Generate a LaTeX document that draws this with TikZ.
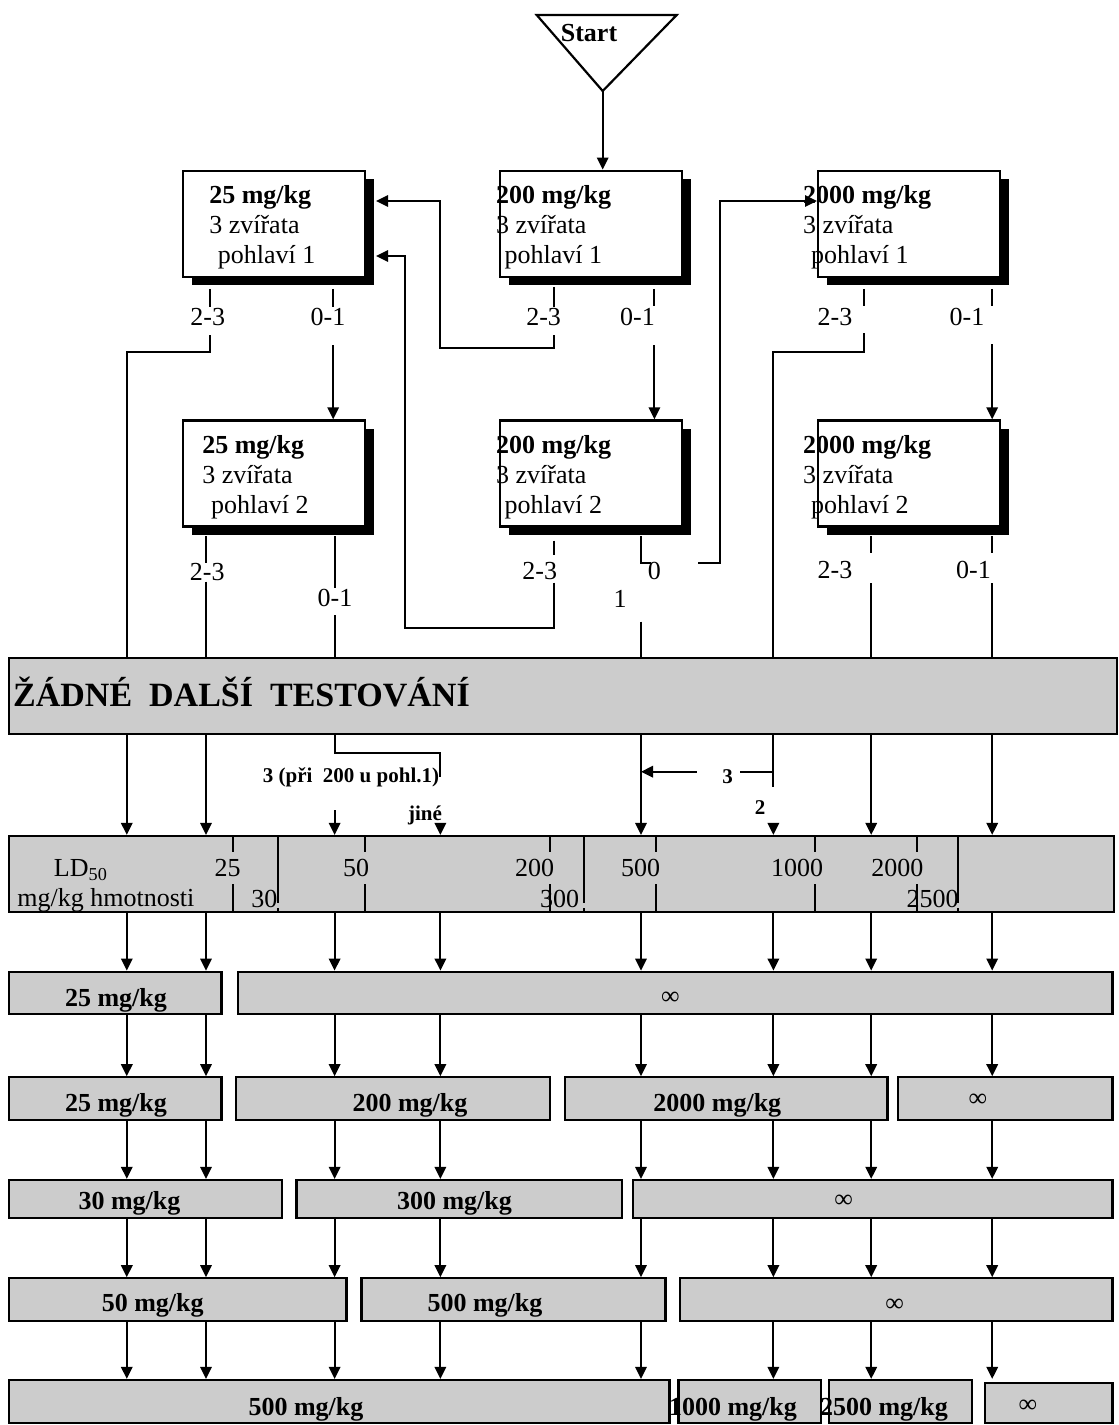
\documentclass[tikz,border=0pt]{standalone}
\usepackage{fontspec}
\setmainfont{Liberation Serif}
\usetikzlibrary{arrows.meta,shadows,calc,fit}
\definecolor{rowgray}{RGB}{204,204,204}
\tikzset{
  dose/.style={draw,fill=white,line width=1.1pt,inner sep=0pt,
    minimum width=91pt,minimum height=53pt,
    drop shadow={shadow xshift=4.3pt,shadow yshift=-4.3pt,fill=black,opacity=1}},
  dosetext/.style={anchor=north west,inner sep=0pt,align=left,
    font=\fontsize{13}{15}\selectfont},
  grayrow/.style={draw,fill=rowgray,line width=1.1pt,inner sep=0pt},
  conn/.style={line width=1pt},
  arr/.style={conn,-{Triangle[length=6pt,width=5.7pt]}},
  numlbl/.style={inner sep=0pt,font=\fontsize{13}{15}\selectfont},
  note/.style={inner sep=0pt,font=\fontsize{10.5}{12}\selectfont\bfseries},
  result/.style={anchor=base,inner sep=0pt,font=\fontsize{13}{15}\selectfont\bfseries},
}

\begin{document}
\begin{tikzpicture}[x=0.5pt,y=-0.5pt]
  \useasboundingbox (0,0) rectangle (1119,1425);
  \draw[line width=1.1pt] (536.7,15) -- (676.7,15) -- (602.7,91) -- cycle;
  \coordinate (start) at (602.7,91);
  \node[inner sep=0pt,font=\fontsize{13}{15}\selectfont\bfseries] (st) at (589,33) {Start};
  % test boxes
  \node[dose] (d25a) at (274,223.7) {};
  \node[dose] (d200a) at (591.3,223.7) {};
  \node[dose] (d2000a) at (909.1,223.7) {};
  \node[dose] (d25b) at (274,473.4) {};
  \node[dose] (d200b) at (591.3,473.4) {};
  \node[dose] (d2000b) at (909.1,473.4) {};
  \node[dosetext] at ($(d25a.north west)+(27,15)$) {\textbf{25 mg/kg}\\3 zvířata\\\hspace*{4.3pt}pohlaví 1};
  \node[dosetext] at ($(d200a.north west)+(-3.4,15)$) {\textbf{200 mg/kg}\\3 zvířata\\\hspace*{4.2pt}pohlaví 1};
  \node[dosetext] at ($(d2000a.north west)+(-14.2,15)$) {\textbf{2000 mg/kg}\\3 zvířata\\\hspace*{4pt}pohlaví 1};
  \node[dosetext] at ($(d25b.north west)+(20,15.5)$) {\textbf{25 mg/kg}\\3 zvířata\\\hspace*{4.4pt}pohlaví 2};
  \node[dosetext] at ($(d200b.north west)+(-3.4,15.5)$) {\textbf{200 mg/kg}\\3 zvířata\\\hspace*{4.2pt}pohlaví 2};
  \node[dosetext] at ($(d2000b.north west)+(-14.2,15.5)$) {\textbf{2000 mg/kg}\\3 zvířata\\\hspace*{4pt}pohlaví 2};
  % gray rows
  \node[grayrow,fit={(8.6,658.3) (1117,734)}] (nott) {};
  \node[grayrow,fit={(8.9,836) (1113.7,911.7)}] (ld) {};
  \node[grayrow,fit={(8.9,971.7) (221.4,1014)}] (ra1) {};
  \node[grayrow,fit={(238.2,971.7) (1112.5,1014)}] (ra2) {};
  \node[grayrow,fit={(8.9,1077.3) (221.4,1120)}] (rb1) {};
  \node[grayrow,fit={(236,1077.3) (550,1120)}] (rb2) {};
  \node[grayrow,fit={(564.8,1077.3) (887.5,1120)}] (rb3) {};
  \node[grayrow,fit={(897.7,1077.3) (1112.5,1120)}] (rb4) {};
  \node[grayrow,fit={(8.9,1180) (282,1218.3)}] (rc1) {};
  \node[grayrow,fit={(296.4,1180) (621.8,1218.3)}] (rc2) {};
  \node[grayrow,fit={(632.8,1180) (1112.5,1218.3)}] (rc3) {};
  \node[grayrow,fit={(8.9,1278.3) (346.4,1320.7)}] (rd1) {};
  \node[grayrow,fit={(361.4,1278.3) (665.4,1320.7)}] (rd2) {};
  \node[grayrow,fit={(679.7,1278.3) (1112.5,1320.7)}] (rd3) {};
  \node[grayrow,fit={(8.9,1380) (669.5,1423)}] (re1) {};
  \node[grayrow,fit={(678.5,1380) (820.7,1423)}] (re2) {};
  \node[grayrow,fit={(828.8,1380) (972.3,1423)}] (re3) {};
  \node[grayrow,fit={(985.3,1382.7) (1112.5,1423)}] (re4) {};
  \node[anchor=base west,inner sep=0pt,font=\fontsize{17}{20}\selectfont\bfseries] (nottxt) at (12.8,706) {ŽÁDNÉ\ \ DALŠÍ\ \ TESTOVÁNÍ};
  % LD50 scale
  \foreach \x in {232.9,365,550.1,656,815,916.9}
    \draw[conn] (\x,836) -- (\x,851.7) (\x,884) -- (\x,911.7);
  \foreach \x in {277.9,583.9,957.6}
    \draw[conn] (\x,836) -- (\x,903) (\x,908) -- (\x,911.7);
  \node[numlbl,anchor=base west] (ldtxt) at (53.6,876.7) {LD\textsubscript{50}};
  \node[numlbl,anchor=base west] (unit) at (17,906) {mg/kg hmotnosti};
  \foreach \x/\t in {227.7/25,356/50,534.6/200,640.5/500,797/1000,897.3/2000}
    \node[numlbl,anchor=base] at (\x,876.7) {\t};
  \foreach \x/\t in {264.3/30,559.5/300,932.7/2500}
    \node[numlbl,anchor=base] at (\x,907) {\t};
  % results
  \node[result] at (116,1006) {25 mg/kg};
  \node[numlbl] at (670.5,998) {∞};
  \node[result] at (116,1111.7) {25 mg/kg};
  \node[result] at (410,1111.7) {200 mg/kg};
  \node[result] at (717.3,1111.7) {2000 mg/kg};
  \node[numlbl] at (978,1100) {∞};
  \node[result] at (129.5,1209.3) {30 mg/kg};
  \node[result] at (454.5,1209.3) {300 mg/kg};
  \node[numlbl] at (843.7,1201.7) {∞};
  \node[result] at (152.7,1311.7) {50 mg/kg};
  \node[result] at (485,1311.7) {500 mg/kg};
  \node[numlbl] at (894.7,1305) {∞};
  \node[result] at (306,1415) {500 mg/kg};
  \node[result] at (733,1415) {1000 mg/kg};
  \node[result] at (884,1415) {2500 mg/kg};
  \node[numlbl] at (1028,1406.7) {∞};
  % connectors, first animals
  \draw[arr] (start) -- (start |- d200a.north);
  \draw[conn] ($(210,0 |- d25a.south)+(0,11)$) -- (210,307);
  \node[numlbl] at (207.7,317) {2-3};
  \draw[conn] (210,335) -- (210,351.7) -| (126.8,0 |- nott.north);
  \draw[conn] ($(333.2,0 |- d25a.south)+(0,11)$) -- (333.2,307);
  \node[numlbl] at (328,317) {0-1};
  \draw[arr] (333.2,345) -- (333.2,0 |- d25b.north);
  \draw[conn] ($(553.8,0 |- d200a.south)+(0,9)$) -- (553.8,307);
  \node[numlbl] at (543.6,317) {2-3};
  \draw[arr] (553.8,335) -- (553.8,348.3) -| (440.4,201) -- ($(d25a.east|-0,201)+(10,0)$);
  \draw[conn] ($(654.4,0 |- d200a.south)+(0,11)$) -- (654.4,306);
  \node[numlbl] at (637.5,317) {0-1};
  \draw[arr] (654.4,345) -- (654.4,0 |- d200b.north);
  \draw[conn] ($(863.9,0 |- d2000a.south)+(0,11)$) -- (863.9,306);
  \node[numlbl] at (835,317) {2-3};
  \draw[conn] (863.9,333) -- (863.9,351.7) -| (772.6,0 |- nott.north);
  \draw[conn] ($(992.2,0 |- d2000a.south)+(0,11)$) -- (992.2,306);
  \node[numlbl] at (967,317) {0-1};
  \draw[arr] (992.2,344) -- (992.2,0 |- d2000b.north);
  % connectors, second animals
  \draw[conn] ($(206,0 |- d25b.south)+(0,8.7)$) -- (206,563);
  \node[numlbl] at (207.3,571.7) {2-3};
  \draw[conn] (206,581.7) -- (206,0 |- nott.north);
  \draw[conn] ($(334.6,0 |- d25b.south)+(0,8.7)$) -- (334.6,588);
  \node[numlbl] at (335,598.3) {0-1};
  \draw[conn] (334.6,615) -- (334.6,0 |- nott.north);
  \draw[conn] ($(553.8,0 |- d200b.south)+(0,13)$) -- (553.8,555);
  \node[numlbl] at (539.7,571) {2-3};
  \draw[arr] (553.8,582.7) -- (553.8,628.3) -| (404.6,256) -- ($(d25a.east|-0,256)+(10,0)$);
  \draw[conn] ($(641,0 |- d200b.south)+(0,8.7)$) -- (641,563.3) -- (651,563.3);
  \node[numlbl] at (654.4,571) {0};
  \node[numlbl] at (620.2,599) {1};
  \draw[conn] (641,621.7) -- (641,0 |- nott.north);
  \draw[arr] (698,563.3) -- (719.6,563.3) -- (719.6,201) -- (d2000a.west|-0,201);
  \draw[conn] ($(871.2,0 |- d2000b.south)+(0,8.7)$) -- (871.2,552.7);
  \node[numlbl] at (835,570) {2-3};
  \draw[conn] (871.2,583.3) -- (871.2,0 |- nott.north);
  \draw[conn] ($(992.2,0 |- d2000b.south)+(0,8.7)$) -- (992.2,552.7);
  \node[numlbl] at (973.5,570) {0-1};
  \draw[conn] (992.2,583.3) -- (992.2,0 |- nott.north);
  % into the LD50 scale
  \foreach \x in {126.8,206,641,871.2,992.2}
    \draw[arr] (\x,0 |- nott.south) -- (\x,0 |- ld.north);
  \draw[conn] (334.6,0 |- nott.south) -- (334.6,752.7) -- (440.4,752.7) -- (440.4,777);
  \node[note] (at200) at (351,777.5) {3 (při\ \ 200 u pohl.1)};
  \draw[arr] (334.6,810) -- (334.6,0 |- ld.north);
  \node[note] (jine) at (425,815) {jiné};
  \draw[arr] (440.4,824) -- (440.4,0 |- ld.north);
  \draw[conn] (773.4,0 |- nott.south) -- (773.4,786.7);
  \draw[conn] (773.4,771.7) -- (739.6,771.7);
  \node[note] (three) at (727.6,776.7) {3};
  \draw[arr] (696.8,771.7) -- (641,771.7);
  \node[note] (two) at (760,807.5) {2};
  \draw[arr] (773.4,823) -- (773.4,0 |- ld.north);
  % scale to results
  \foreach \a/\b in {ld/ra1,ra1/rb1,rb1/rc1,rc1/rd1,rd1/re1}
    \foreach \x in {126.8,206,334.6,440.4,641,773.4,871.2,992.2}
      \draw[arr] (\x,0 |- \a.south) -- (\x,0 |- \b.north);
\end{tikzpicture}
\end{document}
